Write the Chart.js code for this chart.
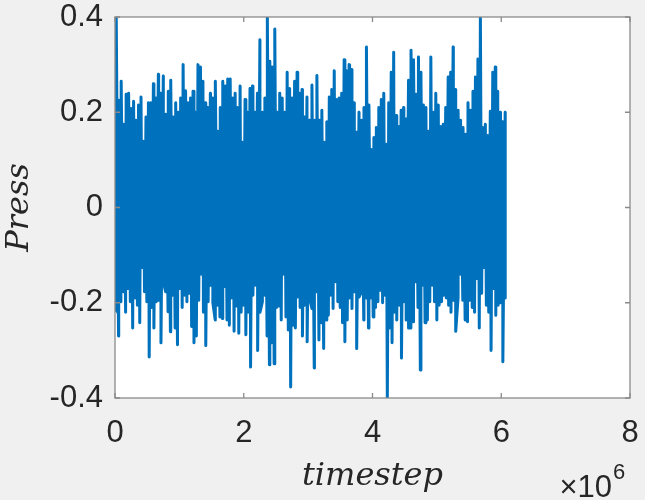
<!DOCTYPE html>
<html><head><meta charset="utf-8">
<script src="https://cdn.jsdelivr.net/npm/chart.js@4/dist/chart.umd.min.js"></script>
<style>html,body{margin:0;padding:0;background:#f0f0f0;overflow:hidden;}#wrap{width:645px;height:500px;position:relative;}</style>
</head><body><div id="wrap"><canvas id="c" width="645" height="500"></canvas></div>
<script>
// ---- data ----
const xTickValues = [0, 2e6, 4e6, 6e6, 8e6];
const yTickValues = [-0.4, -0.2, 0, 0.2, 0.4];
const lastTimestep = 6.08e6;
const xLabel = "timestep";
const yLabel = "Press";
// local maxima of the signal, left to right
const upperPeaks = [
 0.40,0.225,0.265,0.175,0.238,0.24,0.208,0.223,0.183,0.215,0.232,0.139,0.19,0.22,0.22,0.26,0.23,0.28,0.24,0.276,0.196,0.244,0.267,0.19,
 0.22,0.2,0.23,0.30,0.245,0.22,0.23,0.244,0.2,0.30,0.295,0.265,0.22,0.21,0.24,0.23,0.265,0.16,0.21,0.265,0.255,0.27,0.27,0.23,0.24,
 0.21,0.255,0.137,0.227,0.2,0.25,0.255,0.2,0.24,0.352,0.2,0.23,0.40,0.307,0.295,0.375,0.2,0.24,0.23,0.2,0.284,0.25,0.23,0.265,0.284,0.24,
 0.248,0.19,0.232,0.183,0.257,0.183,0.277,0.183,0.204,0.137,0.18,0.232,0.248,0.287,0.227,0.23,0.24,0.31,0.287,0.30,0.29,0.22,0.158,0.2,0.183,0.21,
 0.337,0.215,0.122,0.147,0.168,0.21,0.227,0.24,0.133,0.22,0.284,0.326,0.193,0.17,0.204,0.21,0.186,0.267,0.33,0.31,0.238,0.316,0.284,0.215,0.21,0.16,0.316,
 0.2,0.24,0.215,0.17,0.175,0.21,0.274,0.284,0.337,0.248,0.204,0.183,0.168,0.154,0.22,0.204,0.244,0.274,0.312,0.40,0.168,0.175,0.151,0.202,0.284,0.295,0.244,0.2,0.18,0.2
];
// local minima of the signal, left to right
const lowerPeaks = [
 -0.219,-0.27,-0.198,-0.177,-0.22,-0.17,-0.198,-0.253,-0.19,-0.205,-0.242,-0.126,-0.177,-0.198,-0.314,-0.21,-0.253,-0.198,-0.195,-0.284,-0.156,-0.177,-0.219,-0.261,-0.184,-0.253,
 -0.288,-0.17,-0.21,-0.184,-0.198,-0.18,-0.25,-0.284,-0.27,-0.195,-0.14,-0.22,-0.29,-0.198,-0.163,-0.2,-0.236,-0.205,-0.23,-0.233,-0.166,-0.236,-0.247,-0.19,-0.26,-0.207,-0.264,
 -0.22,-0.205,-0.267,-0.22,-0.335,-0.184,-0.163,-0.3,-0.22,-0.198,-0.184,-0.27,-0.33,-0.284,-0.328,-0.21,-0.207,-0.236,-0.14,-0.23,-0.257,-0.377,-0.247,-0.253,-0.188,-0.21,-0.27,-0.205,
 -0.282,-0.19,-0.212,-0.337,-0.177,-0.278,-0.242,-0.296,-0.236,-0.226,-0.184,-0.212,-0.156,-0.198,-0.21,-0.242,-0.282,-0.236,-0.19,-0.212,-0.177,-0.296,-0.188,-0.177,-0.236,-0.19,-0.253,
 -0.19,-0.23,-0.21,-0.198,-0.174,-0.2,-0.184,-0.40,-0.253,-0.284,-0.22,-0.236,-0.205,-0.316,-0.198,-0.236,-0.253,-0.253,-0.24,-0.156,-0.21,-0.341,-0.163,-0.242,-0.236,-0.198,-0.163,-0.198,
 -0.236,-0.205,-0.198,-0.184,-0.19,-0.205,-0.22,-0.195,-0.26,-0.19,-0.14,-0.195,-0.236,-0.24,-0.195,-0.21,-0.22,-0.149,-0.253,-0.18,-0.126,-0.205,-0.22,-0.3,-0.17,-0.226,-0.205,-0.2,-0.324,-0.19
];

// ---- build the series (timestep, value) ----
const pts = [];
upperPeaks.forEach((v,i)=>pts.push({x:(i+0.5)/upperPeaks.length*lastTimestep, y:v}));
lowerPeaks.forEach((v,i)=>pts.push({x:(i+0.5)/lowerPeaks.length*lastTimestep, y:v}));
pts.sort((a,b)=>a.x-b.x);

const AXIS_COLOR = '#8a8a8a';
const TEXT_COLOR = '#262626';
const tickFont = {family:"'Liberation Sans', Arial, sans-serif", size:31};
const labelFont = {family:"'DejaVu Serif', serif", size:32, style:'italic', lineHeight:1};

const framePlugin = {
  id:'frame',
  beforeDraw(chart){
    const {ctx, chartArea:a} = chart;
    ctx.save();
    ctx.fillStyle = '#f0f0f0';
    ctx.fillRect(0,0,chart.width,chart.height);
    ctx.fillStyle = '#ffffff';
    ctx.fillRect(a.left,a.top,a.right-a.left,a.bottom-a.top);
    ctx.restore();
  },
  afterDraw(chart){
    const {ctx, chartArea:a, scales:{x,y}} = chart;
    ctx.save();
    ctx.strokeStyle = AXIS_COLOR;
    ctx.lineWidth = 1.3;
    ctx.strokeRect(a.left, a.top, a.right-a.left, a.bottom-a.top);
    const tl = 5;
    ctx.beginPath();
    xTickValues.forEach(v=>{
      const px = x.getPixelForValue(v);
      ctx.moveTo(px, a.bottom); ctx.lineTo(px, a.bottom-tl);
      ctx.moveTo(px, a.top); ctx.lineTo(px, a.top+tl);
    });
    yTickValues.forEach(v=>{
      const py = y.getPixelForValue(v);
      ctx.moveTo(a.left, py); ctx.lineTo(a.left+tl, py);
      ctx.moveTo(a.right, py); ctx.lineTo(a.right-tl, py);
    });
    ctx.stroke();
    // exponent label
    ctx.fillStyle = TEXT_COLOR;
    ctx.textBaseline = 'alphabetic';
    ctx.textAlign = 'right';
    ctx.font = "31px 'Liberation Sans', Arial, sans-serif";
    ctx.fillText('\u00d710', 612, 497);
    ctx.textAlign = 'left';
    ctx.font = "22px 'Liberation Sans', Arial, sans-serif";
    ctx.fillText('6', 613, 479);
    ctx.restore();
  }
};

new Chart(document.getElementById('c'), {
  type:'scatter',
  data:{datasets:[{
    data: pts,
    showLine:true,
    borderColor:'#0072BD',
    backgroundColor:'#0072BD',
    borderWidth:3,
    borderJoinStyle:'round',
    borderCapStyle:'butt',
    pointRadius:0,
    pointHoverRadius:0,
    tension:0,
    fill:false
  }]},
  options:{
    responsive:false,
    animation:false,
    devicePixelRatio:1,
    layout:{padding:{top:17,right:15,left:0,bottom:0}},
    plugins:{legend:{display:false},tooltip:{enabled:false}},
    events:[],
    scales:{
      x:{
        type:'linear', min:0, max:8e6,
        grid:{display:false, drawTicks:false}, border:{display:false},
        afterBuildTicks(s){ s.ticks = xTickValues.map(v=>({value:v})); },
        afterFit(s){ s.height = 102; s.paddingLeft = 0; s.paddingRight = 0; },
        ticks:{font:tickFont, color:TEXT_COLOR, padding:17, maxRotation:0,
          callback:(v)=>String(Math.round(v/1e6))},
        title:{display:true, text:xLabel, font:labelFont, color:TEXT_COLOR, padding:{top:0,bottom:7}}
      },
      y:{
        type:'linear', min:-0.4, max:0.4,
        grid:{display:false, drawTicks:false}, border:{display:false},
        afterBuildTicks(s){ s.ticks = yTickValues.map(v=>({value:v})); },
        afterFit(s){ s.width = 115; s.paddingTop = 0; s.paddingBottom = 0; },
        ticks:{font:tickFont, color:TEXT_COLOR, padding:12,
          callback:(v)=>{const r=Math.round(v*10)/10; return r===0?'0':r.toFixed(1);}},
        title:{display:true, text:yLabel, font:labelFont, color:TEXT_COLOR, padding:{top:4,bottom:0}}
      }
    }
  },
  plugins:[framePlugin]
});
</script></body></html>
